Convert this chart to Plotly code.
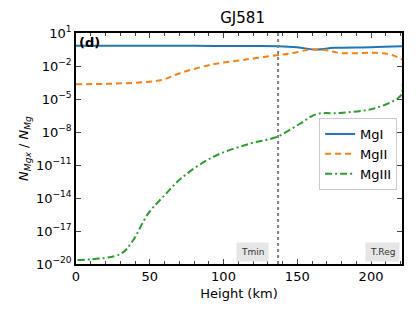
import plotly.graph_objects as go

# Heights (km) and log10 abundance ratios
h_mg1 = [0, 40, 80, 120, 137, 150, 163, 175, 200, 221]
v_mg1 = [-0.17, -0.17, -0.17, -0.18, -0.2, -0.3, -0.51, -0.35, -0.3, -0.21]

h_mg2 = [0, 25, 48, 59, 71, 93, 111, 118, 136, 145, 159, 170, 179, 206, 215, 221]
v_mg2 = [-3.66, -3.6, -3.45, -3.24, -2.63, -1.84, -1.5, -1.35, -1.03, -0.87, -0.51, -0.57, -0.82, -0.82, -1.03, -1.42]

h_mg3 = [1, 30, 38, 49, 59, 72, 93, 118, 136, 152, 163, 179, 202, 218, 221, 221.5]
v_mg3 = [-19.64, -19.1, -17.98, -15.4, -13.9, -12.13, -10.26, -9.05, -8.45, -7.23, -6.38, -6.27, -5.87, -4.96, -4.5, -3.6]

ytick_vals = [1, -2, -5, -8, -11, -14, -17, -20]
ytick_text = ["10<sup>1</sup>", "10<sup>−2</sup>", "10<sup>−5</sup>", "10<sup>−8</sup>",
              "10<sup>−11</sup>", "10<sup>−14</sup>", "10<sup>−17</sup>", "10<sup>−20</sup>"]
xtick_vals = [0, 50, 100, 150, 200]

tmin_h = 137

def lin(v):
    return [10 ** x for x in v]

fig = go.Figure()
fig.add_trace(go.Scatter(x=h_mg1, y=lin(v_mg1), name="MgI", mode="lines",
                         line=dict(color="#1f77b4", width=2, shape="spline")))
fig.add_trace(go.Scatter(x=h_mg2, y=lin(v_mg2), name="MgII", mode="lines",
                         line=dict(color="#ff7f0e", width=2, dash="6px,4px", shape="spline")))
fig.add_trace(go.Scatter(x=h_mg3, y=lin(v_mg3), name="MgIII", mode="lines",
                         line=dict(color="#2ca02c", width=2, dash="7px,3px,2px,3px", shape="spline")))

fig.add_vline(x=tmin_h, line=dict(color="#808080", width=2, dash="dot"))

font = "DejaVu Sans, sans-serif"
fig.add_annotation(x=119.5, y=-18.9, xref="x", yref="y", text="Tmin", showarrow=False,
                   font=dict(family=font, size=9, color="#333"), bgcolor="#e6e6e6", borderpad=4)
fig.add_annotation(x=207.5, y=-18.9, xref="x", yref="y", text="T.Reg", showarrow=False,
                   font=dict(family=font, size=9, color="#333"), bgcolor="#e6e6e6", borderpad=4)
fig.add_annotation(x=0.003, y=1.0, xref="paper", yref="paper", xanchor="left", yanchor="top",
                   text="<b>(d)</b>", showarrow=False, font=dict(family=font, size=13, color="black"))

fig.update_layout(
    width=408, height=306,
    margin=dict(l=68, r=14, t=25, b=50),
    paper_bgcolor="white", plot_bgcolor="white",
    font=dict(family=font, size=13, color="black"),
    title=dict(text="GJ581", x=0.575, xanchor="center", y=0.967, yanchor="middle",
               font=dict(family=font, size=15, color="black")),
    showlegend=True,
    legend=dict(x=0.985, y=0.632, xanchor="right", yanchor="top",
                bgcolor="rgba(255,255,255,0.85)", bordercolor="#cccccc", borderwidth=1,
                font=dict(family=font, size=13), tracegroupgap=0, itemwidth=30),
)
fig.update_xaxes(range=[0, 221], tickvals=xtick_vals, ticks="inside", ticklen=5,
                 showline=True, linecolor="black", linewidth=1.5, mirror="ticks",
                 showgrid=False, zeroline=False, automargin=False,
                 minor=dict(dtick=10, ticks="inside", ticklen=3, showgrid=False),
                 title=dict(text="Height (km)", font=dict(size=13), standoff=6),
                 tickfont=dict(size=13))
fig.update_yaxes(type="log", range=[-20, 1], tickvals=[10 ** v for v in ytick_vals], ticktext=ytick_text,
                 ticks="inside", ticklen=5, showline=True, linecolor="black", linewidth=1.5,
                 mirror="ticks", showgrid=False, zeroline=False, automargin=False,
                 title=dict(text="<i>N</i><sub><i>Mgx</i></sub> / <i>N</i><sub><i>Mg</i></sub>",
                            font=dict(size=13), standoff=4),
                 tickfont=dict(size=13))

fig.write_html("out.html")
